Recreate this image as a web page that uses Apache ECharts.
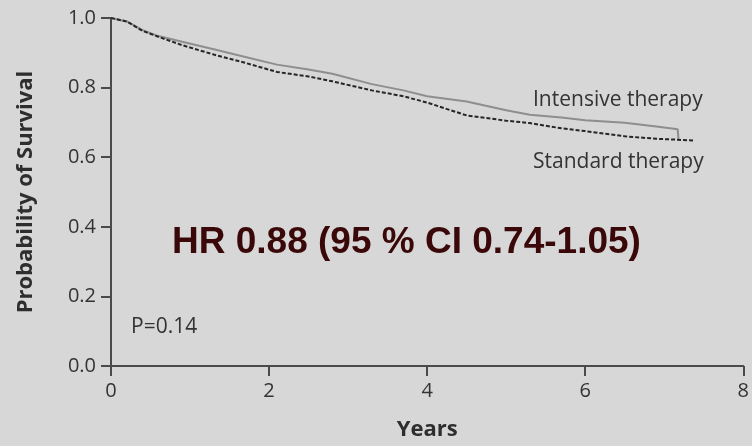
<!DOCTYPE html>
<html><head><meta charset="utf-8">
<script src="https://cdn.jsdelivr.net/npm/echarts@6/dist/echarts.min.js"></script>
<style>html,body{margin:0;padding:0;background:#d7d7d7;}#c{width:752px;height:446px;}</style>
</head><body><div id="c"></div>
<script>
const intensiveYears = [0, 0.2, 0.4, 0.6, 0.9, 1.3, 1.7, 2.1, 2.5, 2.8, 3.3, 3.7, 4.0, 4.5, 5.0, 5.3, 5.7, 6.0, 6.5, 6.9, 7.17, 7.18];
const intensiveSurv  = [1.0, 0.99, 0.965, 0.948, 0.932, 0.91, 0.888, 0.866, 0.852, 0.84, 0.81, 0.792, 0.775, 0.76, 0.735, 0.722, 0.714, 0.706, 0.699, 0.688, 0.68, 0.652];
const standardYears  = [0, 0.2, 0.4, 0.6, 0.9, 1.3, 1.7, 2.1, 2.5, 2.8, 3.3, 3.7, 4.0, 4.5, 5.0, 5.3, 5.7, 6.0, 6.5, 6.9, 7.38];
const standardSurv   = [1.0, 0.99, 0.963, 0.946, 0.922, 0.895, 0.871, 0.845, 0.832, 0.818, 0.792, 0.775, 0.757, 0.72, 0.705, 0.698, 0.683, 0.675, 0.66, 0.653, 0.648];
const xTicks = [0, 2, 4, 6, 8];
const yTicks = [0, 0.2, 0.4, 0.6, 0.8, 1.0];

const pair = (xs, ys) => xs.map((x, i) => [x, ys[i]]);
const chart = echarts.init(document.getElementById('c'));
const font = '"Open Sans", "DejaVu Sans", sans-serif';
chart.setOption({
  backgroundColor: '#d7d7d7',
  animation: false,
  grid: { left: 111, right: 6, top: 18, bottom: 79, containLabel: false },
  xAxis: {
    type: 'value', min: xTicks[0], max: xTicks[xTicks.length - 1], interval: 2,
    name: 'Years', nameLocation: 'middle', nameGap: 53,
    nameTextStyle: { fontFamily: font, fontWeight: 'bold', fontSize: 22, color: '#2e2e2e' },
    axisLine: { lineStyle: { color: '#4a4a4a', width: 2 } },
    axisTick: { length: 10, lineStyle: { color: '#4a4a4a', width: 2 } },
    axisLabel: { fontFamily: font, fontSize: 20, color: '#333', margin: 15 },
    splitLine: { show: false }
  },
  yAxis: {
    type: 'value', min: yTicks[0], max: yTicks[yTicks.length - 1], interval: 0.2,
    name: 'Probability of Survival', nameLocation: 'middle', nameGap: 74,
    nameTextStyle: { fontFamily: font, fontWeight: 'bold', fontSize: 22, color: '#2e2e2e' },
    axisLine: { lineStyle: { color: '#4a4a4a', width: 2 } },
    axisTick: { length: 10, lineStyle: { color: '#4a4a4a', width: 2 } },
    axisLabel: { fontFamily: font, fontSize: 20, color: '#333', margin: 15, formatter: v => v.toFixed(1) },
    splitLine: { show: false }
  },
  series: [
    { name: 'Intensive therapy', type: 'line', symbol: 'none', data: pair(intensiveYears, intensiveSurv),
      lineStyle: { color: '#8e8e8e', width: 2 }, z: 2 },
    { name: 'Standard therapy', type: 'line', symbol: 'none', data: pair(standardYears, standardSurv),
      lineStyle: { color: '#262626', width: 2, type: [4, 2] }, z: 3 }
  ],
  graphic: [
    { type: 'text', x: 533, y: 100, style: { text: 'Intensive therapy', fontFamily: font, fontSize: 21, fill: '#333', verticalAlign: 'middle' } },
    { type: 'text', x: 533, y: 162, style: { text: 'Standard therapy', fontFamily: font, fontSize: 21, fill: '#333', verticalAlign: 'middle' } },
    { type: 'text', x: 172, y: 243, style: { text: 'HR 0.88 (95 % CI 0.74-1.05)', fontFamily: '"Liberation Sans", Arial, sans-serif', fontWeight: 'bold', fontSize: 37, fill: '#3a0808', verticalAlign: 'middle' } },
    { type: 'text', x: 131, y: 327, style: { text: 'P=0.14', fontFamily: font, fontSize: 21, fill: '#333', verticalAlign: 'middle' } }
  ]
});
</script></body></html>
